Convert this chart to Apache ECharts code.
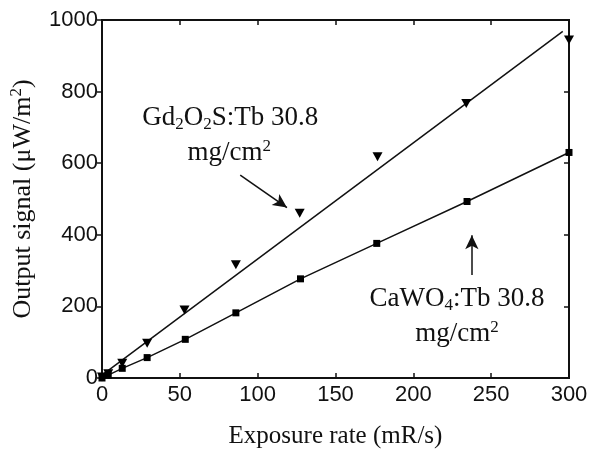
<!DOCTYPE html>
<html>
<head>
<meta charset="utf-8">
<script src="https://cdn.jsdelivr.net/npm/echarts@6/dist/echarts.min.js"></script>
<style>
  html, body { margin: 0; padding: 0; background: #fff; }
  #chart { width: 589px; height: 450px; }
</style>
</head>
<body>
<div id="chart"></div>
<script>
// Gd2O2S:Tb screen, measured points (downward triangles)
var gdRate = [0, 4, 13, 29, 53, 86, 127, 177, 234, 300];
var gdSignal = [3, 12, 41, 97, 190, 316, 460, 618, 767, 944];
// linear fit drawn through the Gd2O2S:Tb points
var gdFitRate = [0, 296];
var gdFitSignal = [8, 968];
// CaWO4:Tb screen (squares, joined by a line)
var caRate = [0, 4, 13, 29, 53.5, 86, 127.5, 176.5, 234.5, 300];
var caSignal = [0, 8, 27, 57, 108, 182, 277, 376, 493, 630];

var xTicks = [0, 50, 100, 150, 200, 250, 300];
var yTicks = [0, 200, 400, 600, 800, 1000];

function pairs(xs, ys) {
  return xs.map(function (x, i) { return [x, ys[i]]; });
}

var ink = '#111';
var serif = 'Liberation Serif';
var sans = 'Liberation Sans';

// rich styles for sub/superscripts
var rich = {
  n: { fontFamily: serif, fontSize: 27, lineHeight: 30, color: ink },
  sub: { fontFamily: serif, fontSize: 17, lineHeight: 17, verticalAlign: 'bottom', color: ink },
  sup: { fontFamily: serif, fontSize: 17, lineHeight: 17, verticalAlign: 'top', color: ink }
};

function axisLine() {
  return { show: true, onZero: false, lineStyle: { color: ink, width: 2 } };
}
function tick(inside) {
  return { show: true, inside: inside, length: 5, lineStyle: { color: ink, width: 1.5 } };
}
function tickLabel(margin) {
  return {
    show: true, margin: margin, fontFamily: sans, fontSize: 22, color: ink,
    formatter: function (v) { return String(v); }
  };
}

var chart = echarts.init(document.getElementById('chart'));

var option = {
  backgroundColor: '#fff',
  animation: false,
  grid: {
    left: 102, right: 20, top: 20, bottom: 72,
    containLabel: false, outerBoundsMode: 'none',
    show: true, borderColor: ink, borderWidth: 2
  },
  xAxis: [{
    type: 'value',
    position: 'bottom',
    min: xTicks[0], max: xTicks[xTicks.length - 1], interval: xTicks[1] - xTicks[0],
    axisLine: axisLine(),
    axisTick: tick(true),
    axisLabel: tickLabel(6),
    splitLine: { show: false },
    name: 'Exposure rate (mR/s)',
    nameLocation: 'middle',
    nameGap: 46,
    nameTextStyle: { fontFamily: serif, fontSize: 25, color: ink }
  }, {
    type: 'value',
    position: 'top',
    min: xTicks[0], max: xTicks[xTicks.length - 1], interval: xTicks[1] - xTicks[0],
    axisLine: axisLine(),
    axisTick: tick(true),
    axisLabel: { show: false },
    splitLine: { show: false }
  }],
  yAxis: [{
    type: 'value',
    position: 'left',
    min: yTicks[0], max: yTicks[yTicks.length - 1], interval: yTicks[1] - yTicks[0],
    axisLine: axisLine(),
    axisTick: tick(false),
    axisLabel: tickLabel(4),
    splitLine: { show: false },
    name: 'Output signal (μW/m{sup|2})',
    nameLocation: 'middle',
    nameGap: 54,
    nameTextStyle: { fontFamily: serif, fontSize: 26, lineHeight: 30, color: ink, rich: rich }
  }, {
    type: 'value',
    position: 'right',
    min: yTicks[0], max: yTicks[yTicks.length - 1], interval: yTicks[1] - yTicks[0],
    axisLine: axisLine(),
    axisTick: tick(true),
    axisLabel: { show: false },
    splitLine: { show: false }
  }],
  series: [{
    name: 'Gd2O2S:Tb fit',
    type: 'line',
    data: pairs(gdFitRate, gdFitSignal),
    showSymbol: false,
    lineStyle: { color: ink, width: 1.5 },
    z: 2,
    markLine: {
      silent: true,
      symbol: ['none', 'arrow'],
      symbolSize: [10, 14],
      label: { show: false },
      lineStyle: { color: ink, width: 1.5, type: 'solid' },
      data: [
        [{ coord: [88.8, 567] }, { coord: [118.8, 476] }],
        [{ coord: [237.6, 288] }, { coord: [237.6, 399] }]
      ]
    }
  }, {
    name: 'Gd2O2S:Tb',
    type: 'scatter',
    data: pairs(gdRate, gdSignal),
    symbol: 'triangle',
    symbolRotate: 180,
    symbolSize: [10, 9],
    itemStyle: { color: '#000', opacity: 1 },
    z: 3
  }, {
    name: 'CaWO4:Tb',
    type: 'line',
    data: pairs(caRate, caSignal),
    symbol: 'rect',
    symbolSize: 7,
    showAllSymbol: true,
    lineStyle: { color: ink, width: 1.5 },
    itemStyle: { color: '#000' },
    z: 3
  }]
};

chart.setOption(option);

// text notes, anchored at data coordinates
var notes = [
  { at: [82.4, 726], text: '{n|Gd}{sub|2}{n|O}{sub|2}{n|S:Tb 30.8}' },
  { at: [81.8, 628], text: '{n|mg/cm}{sup|2}' },
  { at: [228.1, 220], text: '{n|CaWO}{sub|4}{n|:Tb 30.8}' },
  { at: [228, 122], text: '{n|mg/cm}{sup|2}' }
];

chart.setOption({
  graphic: notes.map(function (n) {
    var p = chart.convertToPixel({ xAxisIndex: 0, yAxisIndex: 0 }, n.at);
    return {
      type: 'text',
      x: p[0],
      y: p[1],
      silent: true,
      style: {
        text: n.text,
        align: 'center',
        verticalAlign: 'middle',
        fontFamily: serif,
        fontSize: 27,
        fill: ink,
        rich: rich
      }
    };
  })
});
</script>
</body>
</html>
